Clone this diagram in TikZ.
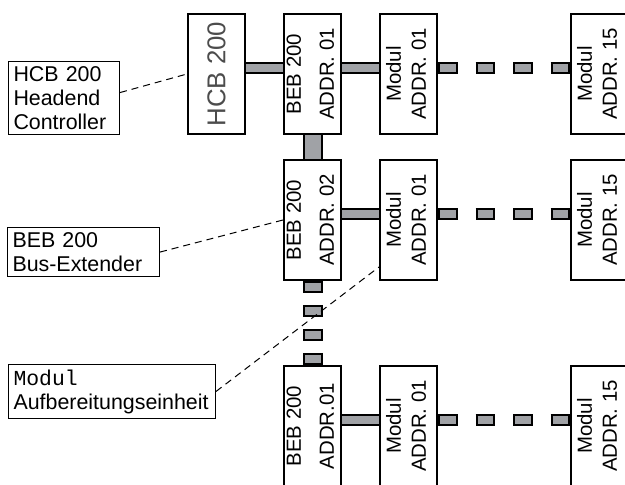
\documentclass[tikz,border=0pt]{standalone}
\usepackage{fontspec}
\setmainfont{Liberation Sans}
\setmonofont{Liberation Mono}
\usepackage{graphicx}
\usetikzlibrary{positioning,backgrounds}

\definecolor{busgray}{RGB}{160,162,166}

% two rotated lines inside a unit box
\newcommand{\unittext}[3][0.5pt]{\rotatebox{90}{\begin{tabular}{@{}c@{}}#2\\[#1]#3\end{tabular}}}

\begin{document}
\begin{tikzpicture}[
    x=0.5pt, y=-0.5pt,
    node distance=18.5pt and 18.5pt,
    unit/.style={draw, line width=1pt, fill=white, inner sep=0pt, minimum width=28.5pt, minimum height=60pt, font=\fontsize{10.2}{12}\selectfont},
    note/.style={draw, line width=0.5pt, fill=white, anchor=north west, align=left, inner sep=2.5pt, font=\fontsize{10.7}{12}\selectfont},
    leader/.style={line width=0.5pt, dash pattern=on 3.5pt off 2.5pt},
    bus/.style={draw=busgray, line width=4pt, preaction={draw=black, line width=6pt}},
    vbus/.style={draw=busgray, line width=8pt, preaction={draw=black, line width=10pt}},
    hgap/.style={draw=busgray, line width=4pt, dash pattern=on 7.75pt off 11pt, dash phase=17.75pt,
        preaction={draw=black, line width=6pt, dash pattern=on 9.75pt off 9pt, dash phase=0pt}},
    vgap/.style={draw=busgray, line width=8pt, dash pattern=on 4pt off 8pt, dash phase=11pt,
        preaction={draw=black, line width=10pt, dash pattern=on 6pt off 6pt, dash phase=0pt}}
]
\useasboundingbox (0,0) rectangle (625,485);

% head end and first bus line
\node[unit, text=black!70] (hcb) at (216.5,74) {\rotatebox{90}{\fontsize{12.9}{14}\selectfont HCB 200}};
\node[unit, right=of hcb] (beb1) {\unittext[4.5pt]{BEB 200}{ADDR. 01}};
\node[unit, right=of beb1] (mod11) {\unittext{Modul}{ADDR. 01}};
\node[unit, right=66pt of mod11] (mod1n) {\unittext{Modul}{ADDR. 15}};

% second bus line
\node[unit, below=12pt of beb1] (beb2) {\unittext[4.5pt]{BEB 200}{ADDR. 02}};
\node[unit, right=of beb2] (mod21) {\unittext{Modul}{ADDR. 01}};
\node[unit, right=66pt of mod21] (mod2n) {\unittext{Modul}{ADDR. 15}};

% last bus line
\node[unit, below=42pt of beb2] (beb3) {\unittext[4.5pt]{BEB 200}{ADDR.01}};
\node[unit, right=of beb3] (mod31) {\unittext{Modul}{ADDR. 01}};
\node[unit, right=66pt of mod31] (mod3n) {\unittext{Modul}{ADDR. 15}};

% legend boxes
\node[note, text width=50.5pt] (lhcb) at (8,61) {HCB 200\\Headend\\Controller};
\node[note, text width=71pt] (lbeb) at (7,227) {BEB 200\\Bus-Extender};
\node[note, text width=98.5pt] (lmod) at (8,364) {\texttt{Modul}\\Aufbereitungseinheit};

\begin{scope}[on background layer]
\draw[bus] ([yshift=3pt]hcb.east) -- ([yshift=3pt]beb1.east);
\draw[bus] ([yshift=3pt]beb1.east) -- ([yshift=3pt]mod11.west);
\draw[hgap] ([yshift=3pt]mod11.east) -- ([yshift=3pt]mod1n.west);
\draw[bus] ([yshift=3pt]beb2.east) -- ([yshift=3pt]mod21.west);
\draw[hgap] ([yshift=3pt]mod21.east) -- ([yshift=3pt]mod2n.west);
\draw[bus] ([yshift=3pt]beb3.east) -- ([yshift=3pt]mod31.west);
\draw[hgap] ([yshift=3pt]mod31.east) -- ([yshift=3pt]mod3n.west);
\draw[vbus] (beb1.south) -- (beb2.north);
\draw[vgap] (beb2.south) -- (beb3.north);
\end{scope}

\draw[leader] ([yshift=2.75pt]lhcb.east) -- (hcb.west);
\draw[leader] (lbeb.east) -- (beb2.west);
\draw[leader] (lmod.east) -- ([yshift=7pt]mod21.south west);
\end{tikzpicture}
\end{document}
